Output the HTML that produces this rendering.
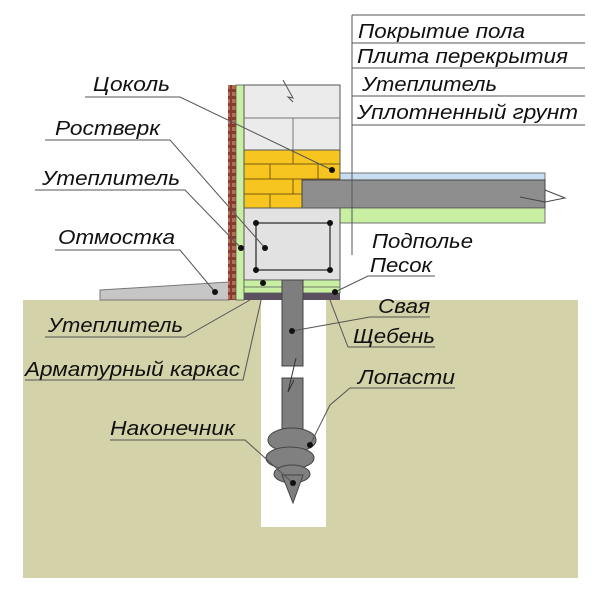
<!DOCTYPE html>
<html><head><meta charset="utf-8"><style>
html,body{margin:0;padding:0;background:#fff;width:600px;height:608px;overflow:hidden}
svg text{font-family:"Liberation Sans","DejaVu Sans",sans-serif;font-style:italic;font-size:20px;fill:#111}
</style></head><body>
<svg width="600" height="608" viewBox="0 0 600 608" xmlns="http://www.w3.org/2000/svg">
<defs>
<pattern id="brk" width="7" height="7" patternUnits="userSpaceOnUse">
<rect width="7" height="7" fill="#8a3a2a"/><rect x="1" y="1" width="5" height="4" fill="#b0705a"/>
</pattern>
</defs>
<rect x="23" y="300" width="555" height="278" fill="#d4d2a8"/>
<rect x="261" y="300" width="65" height="227" fill="#fff"/>
<polygon points="100,290 229,282 229,300 100,300" fill="#c6c6c6" stroke="#777" stroke-width="1"/>
<rect x="228" y="85" width="8" height="215" fill="url(#brk)"/>
<rect x="236" y="85" width="8" height="215" fill="#c9f0a2" stroke="#555" stroke-width="0.8"/>
<rect x="244" y="85" width="96" height="65" fill="#ebebeb" stroke="#555" stroke-width="1"/>
<line x1="244" y1="118" x2="340" y2="118" stroke="#777"/>
<line x1="293" y1="118" x2="293" y2="150" stroke="#777"/>
<polyline points="283,80 293,98 288,97 293,102" fill="none" stroke="#555"/>
<rect x="244" y="150" width="96" height="58" fill="#f7c520" stroke="#555" stroke-width="1"/>
<g stroke="#7a5a10" stroke-width="1">
<line x1="244" y1="164" x2="340" y2="164"/><line x1="244" y1="179" x2="340" y2="179"/><line x1="244" y1="194" x2="302" y2="194"/>
<line x1="293" y1="150" x2="293" y2="164"/><line x1="270" y1="164" x2="270" y2="179"/><line x1="318" y1="164" x2="318" y2="179"/>
<line x1="293" y1="179" x2="293" y2="194"/><line x1="270" y1="194" x2="270" y2="208"/>
</g>
<rect x="340" y="173" width="205" height="7" fill="#c8def0" stroke="#555" stroke-width="0.8"/>
<rect x="302" y="180" width="243" height="28" fill="#8e8e8e" stroke="#444" stroke-width="1"/>
<rect x="340" y="208" width="205" height="15" fill="#c9f0a2" stroke="#555" stroke-width="0.8"/>
<polyline points="520,197 545,202 565,198 545,190" fill="none" stroke="#444"/>
<rect x="244" y="208" width="96" height="72" fill="#e2e2e2" stroke="#555" stroke-width="1"/>
<rect x="256" y="223" width="74" height="47" fill="none" stroke="#333" stroke-width="1.3"/>
<g fill="#111"><circle cx="256" cy="223" r="3"/><circle cx="330" cy="223" r="3"/><circle cx="256" cy="270" r="3"/><circle cx="330" cy="270" r="3"/></g>
<rect x="244" y="280" width="96" height="13" fill="#c9f0a2" stroke="#555" stroke-width="0.8"/>
<line x1="244" y1="287" x2="340" y2="287" stroke="#555" stroke-width="0.8"/>
<rect x="244" y="293" width="96" height="7" fill="#5a5060"/>
<rect x="282" y="280" width="21" height="86" fill="#7e7e7e" stroke="#444"/>
<rect x="282" y="378" width="21" height="60" fill="#7e7e7e" stroke="#444"/>
<polyline points="296,358 288,392 294,380" fill="none" stroke="#333"/>
<g fill="#808080" stroke="#444">
<ellipse cx="292" cy="440" rx="24" ry="12"/>
<ellipse cx="290" cy="458" rx="24" ry="11"/>
<ellipse cx="292" cy="474" rx="18" ry="9"/>
</g>
<polygon points="282,475 303,475 293,503" fill="#7e7e7e" stroke="#444"/>
<g stroke="#555" stroke-width="1">
<line x1="352" y1="15" x2="352" y2="255"/>
<line x1="352" y1="15" x2="585" y2="15"/>
<line x1="352" y1="43" x2="585" y2="43"/>
<line x1="352" y1="68" x2="585" y2="68"/>
<line x1="352" y1="96" x2="585" y2="96"/>
<line x1="352" y1="125" x2="585" y2="125"/>
</g>
<text x="358" y="38" textLength="167" lengthAdjust="spacingAndGlyphs">Покрытие пола</text>
<text x="357" y="63" textLength="211" lengthAdjust="spacingAndGlyphs">Плита перекрытия</text>
<text x="362" y="91" textLength="135" lengthAdjust="spacingAndGlyphs">Утеплитель</text>
<text x="357" y="119" textLength="221" lengthAdjust="spacingAndGlyphs">Уплотненный грунт</text>
<g stroke="#555" stroke-width="1" fill="none">
<polyline points="85,97 180,97 332,170"/>
<polyline points="45,140 170,140 265,248"/>
<polyline points="35,190 185,190 241,248"/>
<polyline points="55,250 180,250 215,292"/>
<polyline points="45,337 185,337 250,300"/>
<polyline points="25,380 243,380 262,296"/>
<polyline points="435,276 368,276 335,292"/>
<polyline points="430,317 370,317 292,331"/>
<polyline points="435,347 348,347 330,300"/>
<polyline points="455,388 350,388 330,405 310,445"/>
<polyline points="110,440 245,440 293,483"/>
</g>
<g fill="#111">
<circle cx="332" cy="170" r="3"/><circle cx="265" cy="248" r="3"/><circle cx="241" cy="248" r="3"/>
<circle cx="215" cy="292" r="3"/><circle cx="263" cy="283" r="3"/><circle cx="335" cy="292" r="3"/>
<circle cx="292" cy="331" r="3"/><circle cx="310" cy="445" r="3"/><circle cx="293" cy="483" r="3"/>
</g>
<text x="93" y="91" textLength="77" lengthAdjust="spacingAndGlyphs">Цоколь</text>
<text x="55" y="135" textLength="105" lengthAdjust="spacingAndGlyphs">Ростверк</text>
<text x="42" y="185" textLength="138" lengthAdjust="spacingAndGlyphs">Утеплитель</text>
<text x="58" y="244" textLength="117" lengthAdjust="spacingAndGlyphs">Отмостка</text>
<text x="48" y="332" textLength="135" lengthAdjust="spacingAndGlyphs">Утеплитель</text>
<text x="25" y="376" textLength="215" lengthAdjust="spacingAndGlyphs">Арматурный каркас</text>
<text x="110" y="435" textLength="125" lengthAdjust="spacingAndGlyphs">Наконечник</text>
<text x="372" y="248" textLength="101" lengthAdjust="spacingAndGlyphs">Подполье</text>
<text x="370" y="272" textLength="62" lengthAdjust="spacingAndGlyphs">Песок</text>
<text x="378" y="313" textLength="52" lengthAdjust="spacingAndGlyphs">Свая</text>
<text x="353" y="343" textLength="82" lengthAdjust="spacingAndGlyphs">Щебень</text>
<text x="358" y="384" textLength="97" lengthAdjust="spacingAndGlyphs">Лопасти</text>
</svg>
</body></html>
